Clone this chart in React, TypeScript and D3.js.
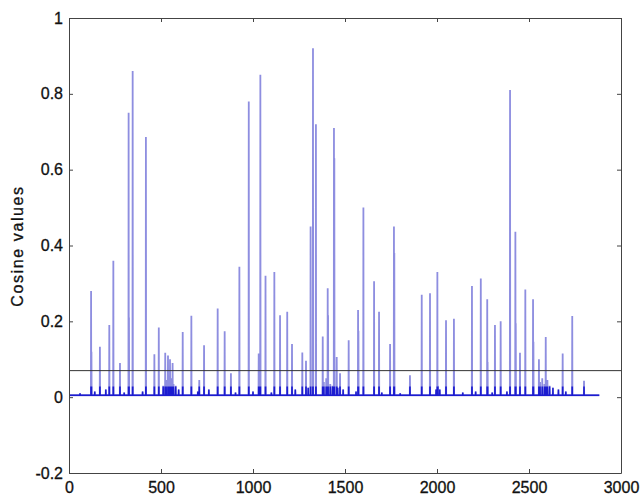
import React, { useEffect, useRef } from 'react'
import * as d3 from 'd3'

// tall and medium peaks (sample index, cosine value)
const peakX = [120, 122, 168, 219, 241, 277, 324, 326, 346, 418, 464, 488, 523, 538, 549, 563,
  618, 665, 708, 734, 808, 846, 880, 926, 977, 1031, 1040, 1068, 1116, 1147, 1186, 1212,
  1268, 1288, 1313, 1326, 1342, 1379, 1406, 1408, 1440, 1442, 1455, 1473, 1520, 1571, 1573,
  1600, 1658, 1685, 1745, 1766, 1768, 1853, 1917, 1962, 2002, 2049, 2092, 2190, 2238, 2273,
  2275, 2315, 2346, 2397, 2426, 2428, 2451, 2480, 2522, 2524, 2554, 2591, 2683, 2735, 2799]
const peakY = [0.28, 0.12, 0.133, 0.19, 0.36, 0.09, 0.75, 0.21, 0.86, 0.686, 0.113, 0.184, 0.117, 0.11, 0.1, 0.09,
  0.172, 0.215, 0.045, 0.137, 0.234, 0.174, 0.063, 0.344, 0.78, 0.115, 0.85, 0.32, 0.33, 0.216, 0.225, 0.14,
  0.118, 0.096, 0.45, 0.92, 0.72, 0.16, 0.287, 0.216, 0.71, 0.63, 0.106, 0.063, 0.15, 0.23, 0.175,
  0.5, 0.306, 0.225, 0.14, 0.45, 0.38, 0.058, 0.27, 0.274, 0.33, 0.203, 0.207, 0.293, 0.313, 0.258,
  0.093, 0.19, 0.2, 0.81, 0.436, 0.195, 0.117, 0.284, 0.258, 0.146, 0.1, 0.159, 0.115, 0.214, 0.043]

// small bumps hugging the baseline
const bumpX = [60, 140, 200, 300, 400, 512, 528, 544, 556, 568, 580, 596, 700, 760, 905, 1000, 1100,
  1230, 1300, 1385, 1398, 1420, 1432, 1460, 1490, 1560, 1700, 1800, 1995, 2005, 2015, 2140, 2210,
  2300, 2380, 2560, 2572, 2584, 2600, 2612, 2630, 2660, 2700]
const bumpY = [0.01, 0.015, 0.02, 0.012, 0.015, 0.03, 0.045, 0.04, 0.05, 0.035, 0.03, 0.02, 0.015, 0.02, 0.012, 0.015, 0.012,
  0.02, 0.025, 0.04, 0.05, 0.035, 0.03, 0.025, 0.02, 0.015, 0.012, 0.01, 0.02, 0.03, 0.02, 0.012, 0.015,
  0.012, 0.015, 0.04, 0.05, 0.035, 0.045, 0.03, 0.025, 0.02, 0.015]

const baseLevel = 0.005
const lastSample = 2882
const threshold = 0.07

const xTicks = [0, 500, 1000, 1500, 2000, 2500, 3000]
const yTicks = [-0.2, 0, 0.2, 0.4, 0.6, 0.8, 1]

const W = 641, H = 496
const margin = { top: 18, right: 20, bottom: 23, left: 69 }

export default function App() {
  const ref = useRef<SVGSVGElement>(null)

  useEffect(() => {
    const svg = d3.select(ref.current)
    svg.selectAll('*').remove()

    const x = d3.scaleLinear().domain([0, 3000]).range([margin.left, W - margin.right])
    const y = d3.scaleLinear().domain([-0.2, 1]).range([H - margin.bottom, margin.top])

    const spikes = peakX.map((v, i) => ({ x: v, y: peakY[i] }))
      .concat(bumpX.map((v, i) => ({ x: v, y: bumpY[i] })))
      .sort((a, b) => a.x - b.x)

    const pts: [number, number][] = [[0, baseLevel]]
    spikes.forEach(s => {
      pts.push([s.x - 1, baseLevel], [s.x, s.y], [s.x + 1, baseLevel])
    })
    pts.push([lastSample, baseLevel])

    const line = d3.line<[number, number]>()
      .x(d => x(d[0]))
      .y(d => y(d[1]))

    // dark part near the baseline, like the jpeg's dense bottoms
    svg.append('clipPath').attr('id', 'low')
      .append('rect')
      .attr('x', x(0) - 2).attr('width', x(3000) - x(0) + 4)
      .attr('y', y(0.028)).attr('height', y(-0.2) - y(0.028))

    svg.append('path')
      .attr('d', line(pts))
      .attr('fill', 'none')
      .attr('stroke', '#8e8ee0')
      .attr('stroke-width', 1.8)

    svg.append('path')
      .attr('d', line(pts))
      .attr('clip-path', 'url(#low)')
      .attr('fill', 'none')
      .attr('stroke', '#1c1cd0')
      .attr('stroke-width', 1.4)

    svg.append('line')
      .attr('x1', x(0)).attr('x2', x(3000))
      .attr('y1', y(threshold)).attr('y2', y(threshold))
      .attr('stroke', '#333')
      .attr('stroke-width', 1)

    const font = '"Liberation Sans", Arial, sans-serif'

    const bottom = svg.append('g')
      .attr('transform', `translate(0,${H - margin.bottom})`)
      .call(d3.axisBottom(x).tickValues(xTicks).tickSizeInner(-4).tickSizeOuter(0).tickPadding(9).tickFormat(d3.format('d')))
    const left = svg.append('g')
      .attr('transform', `translate(${margin.left},0)`)
      .call(d3.axisLeft(y).tickValues(yTicks).tickSizeInner(-4).tickSizeOuter(0).tickPadding(6)
        .tickFormat(d => (d === 0 || d === 1 ? String(d) : d3.format('.1f')(d as number)).replace('−', '-')))
    svg.append('g')
      .attr('transform', `translate(0,${margin.top})`)
      .call(d3.axisTop(x).tickValues(xTicks).tickSizeInner(-4).tickSizeOuter(0).tickFormat(() => ''))
    svg.append('g')
      .attr('transform', `translate(${W - margin.right},0)`)
      .call(d3.axisRight(y).tickValues(yTicks).tickSizeInner(-4).tickSizeOuter(0).tickFormat(() => ''))

    svg.selectAll('.domain, .tick line').attr('stroke', '#444')
    ;[bottom, left].forEach(g => g.selectAll('text')
      .attr('font-family', font)
      .attr('font-size', 16)
      .attr('stroke', '#111')
      .attr('stroke-width', 0.3)
      .attr('fill', '#111'))

    svg.append('text')
      .attr('transform', `translate(23,246) rotate(-90)`)
      .attr('text-anchor', 'middle')
      .attr('font-family', font)
      .attr('font-size', 16)
      .attr('letter-spacing', 1.6)
      .attr('stroke', '#111')
      .attr('stroke-width', 0.3)
      .attr('fill', '#111')
      .text('Cosine values')
  }, [])

  return (
    <div style={{ position: 'absolute', left: 0, top: 0 }}>
      <svg ref={ref} width={W} height={H} style={{ display: 'block', background: '#fff' }} />
    </div>
  )
}
